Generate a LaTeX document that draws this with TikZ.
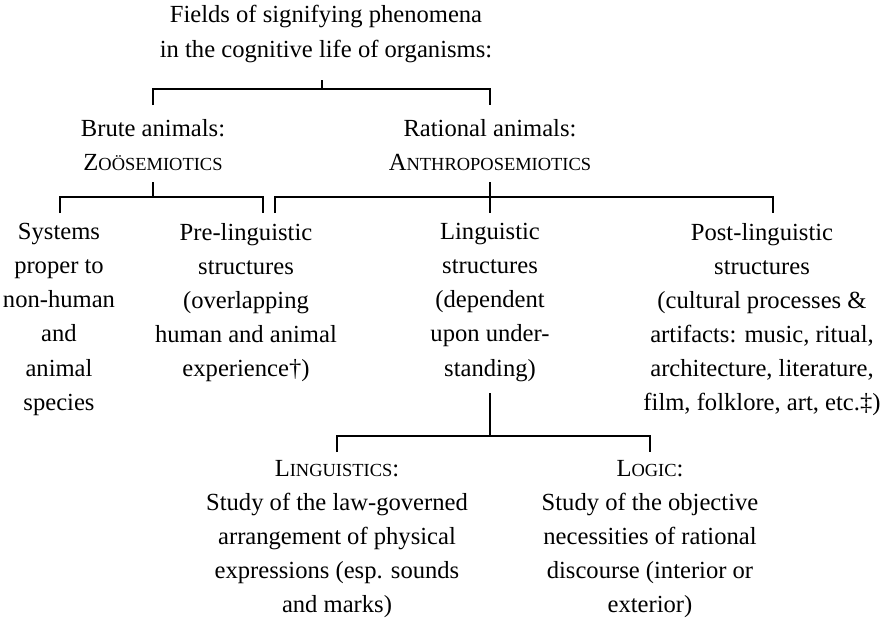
\documentclass[tikz,border=0pt]{standalone}
\usepackage{fontspec}
\setmainfont{Liberation Serif}
\usetikzlibrary{positioning}
% fake small caps: first letter full size, the rest smaller
\newcommand{\fsc}[2]{#1{\fontsize{10.5}{12}\selectfont #2}}

\begin{document}
\begin{tikzpicture}[x=0.2cm,y=-0.2cm,
  lbl/.style={align=center,inner sep=0pt,font=\fontsize{14}{19.4}\selectfont},
  col/.style={lbl,anchor=north},
  tie/.style={line width=0.7pt}]
  \useasboundingbox (0,0) rectangle (89.5,62.4);

  % root
  \node[lbl] (title) at (32.6,3.4) {Fields of signifying phenomena\\in the cognitive life of organisms:};

  % second level
  \node[lbl] (brute) at (15.3,14.5) {Brute animals:\\\fsc{Z}{OÖSEMIOTICS}};
  \node[lbl] (rational) at (49.0,14.5) {Rational animals:\\\fsc{A}{NTHROPOSEMIOTICS}};

  % third level
  \node[col] (systems) at (5.9,22.3) {Systems\\proper to\\non-human\\and\\animal\\species};
  \node[col] (prelang) at (24.6,22.3) {Pre-linguistic\\structures\\(overlapping\\human and animal\\experience†)};
  \node[col] (lang) at (49.0,22.3) {Linguistic\\structures\\(dependent\\upon under-\\standing)};
  \node[col] (postlang) at (76.2,22.3) {Post-linguistic\\structures\\(cultural processes \&\\artifacts: music, ritual,\\architecture, literature,\\film, folklore, art, etc.‡)};

  % fourth level
  \node[col] (linguistics) at (33.7,46.0) {\fsc{L}{INGUISTICS}:\\Study of the law-governed\\arrangement of physical\\expressions (esp. sounds\\and marks)};
  \node[col] (logic) at (65.0,46.0) {\fsc{L}{OGIC}:\\Study of the objective\\necessities of rational\\discourse (interior or\\exterior)};

  % bracket joints
  \coordinate (bar1) at (32.2,8.9);
  \coordinate (zooL) at (6.0,19.7);
  \coordinate (zooR) at (26.3,19.7);
  \coordinate (anthL) at (27.5,19.7);
  \coordinate (anthR) at (77.3,19.7);
  \coordinate (bar4) at (49.0,43.6);

  % brackets
  \draw[tie] (bar1) -- ++(0,-0.9);
  \draw[tie] (brute.north |- bar1) ++(0,1.6) |- (rational.north |- bar1) -- ++(0,1.6);

  \draw[tie] (brute.south |- zooL) -- ++(0,-1.5);
  \draw[tie] (zooL) ++(0,1.6) |- (zooR) -- ++(0,1.6);

  \draw[tie] (rational.south |- anthL) ++(0,-1.5) -- (lang.north |- anthL) -- ++(0,1.6);
  \draw[tie] (anthL) ++(0,1.6) |- (anthR) -- ++(0,1.6);

  \draw[tie] (lang.south |- bar4) ++(0,-4.3) -- (bar4);
  \draw[tie] (linguistics.north |- bar4) ++(0,1.6) |- (logic.north |- bar4) -- ++(0,1.6);
\end{tikzpicture}
\end{document}
